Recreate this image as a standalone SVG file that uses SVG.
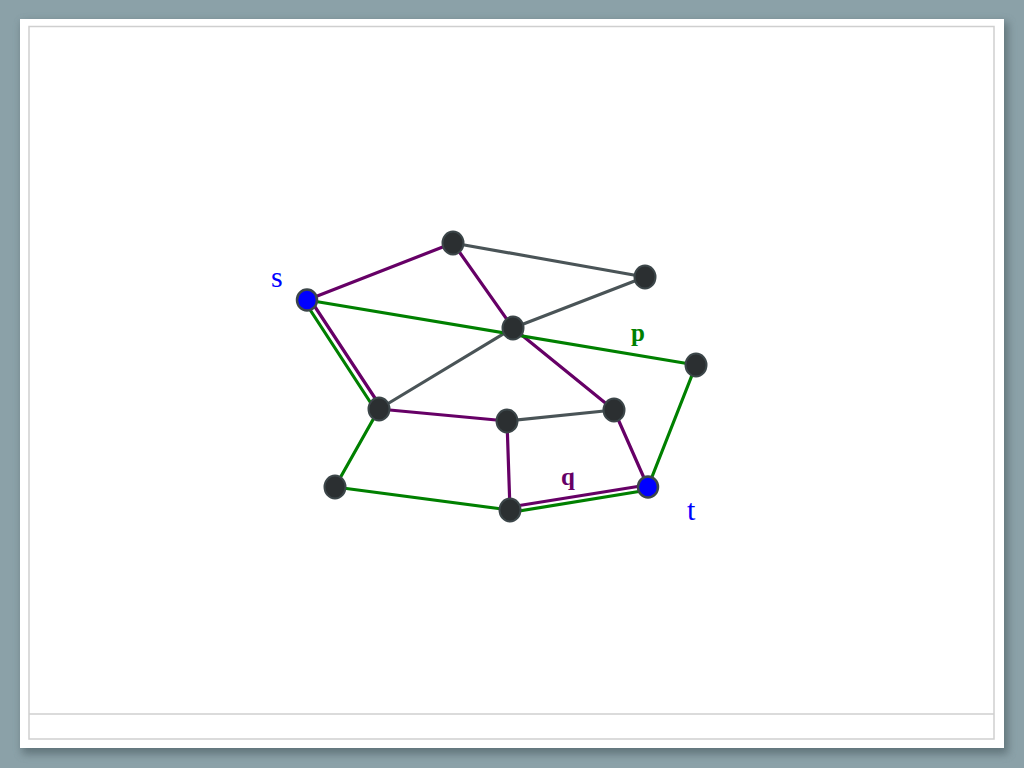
<svg xmlns="http://www.w3.org/2000/svg" width="1024" height="768" viewBox="0 0 1024 768">
<defs>
<filter id="sh" x="-5%" y="-5%" width="110%" height="110%">
<feGaussianBlur stdDeviation="4"/>
</filter>
</defs>
<style>
.e{fill:none;stroke-width:3.2;stroke-linecap:round}
.pu{stroke:#660066}
.gr{stroke:#008000}
.gy{stroke:#4a5457}
.n{fill:#2b2f31;stroke:#3c4649;stroke-width:2}
.b{fill:#0000ff;stroke:#3c4649;stroke-width:2.5}
.lbl{font-family:"Liberation Serif",serif;font-size:30px}
.lb{font-family:"Liberation Serif",serif;font-size:25px;font-weight:bold}
</style>
<rect x="0" y="0" width="1024" height="768" fill="#8ba1a8"/>
<rect x="22" y="22" width="986" height="732" fill="#4f6268" opacity="0.7" filter="url(#sh)"/>
<rect x="20" y="19" width="984" height="729" fill="#ffffff"/>
<rect x="29" y="26.5" width="965" height="712.5" fill="none" stroke="#cfcfcf" stroke-width="1.5"/>
<line x1="29" y1="714" x2="994" y2="714" stroke="#cfcfcf" stroke-width="1.5"/>
<g id="connectors">
<line class="e gy" x1="453" y1="243" x2="645" y2="277"/>
<line class="e gy" x1="513" y1="328" x2="645" y2="277"/>
<line class="e gy" x1="513" y1="328" x2="379" y2="409"/>
<line class="e gy" x1="507" y1="421" x2="614" y2="410"/>
<line class="e pu" x1="307" y1="300" x2="453" y2="243"/>
<line class="e pu" x1="453" y1="243" x2="513" y2="328"/>
<line class="e pu" x1="513" y1="328" x2="614" y2="410"/>
<line class="e pu" x1="379" y1="409" x2="507" y2="421"/>
<line class="e pu" x1="507" y1="421" x2="510" y2="510"/>
<line class="e pu" x1="614" y1="410" x2="648" y2="487"/>
<line class="e gr" x1="307" y1="300" x2="696" y2="365"/>
<line class="e gr" x1="696" y1="365" x2="648" y2="487"/>
<line class="e gr" x1="379" y1="409" x2="335" y2="487"/>
<line class="e gr" x1="335" y1="487" x2="510" y2="510"/>
<line class="e gr" x1="305" y1="302" x2="376" y2="411"/>
<line class="e pu" x1="309.5" y1="298.5" x2="381.5" y2="408"/>
<line class="e gr" x1="510" y1="512.5" x2="648" y2="490"/>
<line class="e pu" x1="510" y1="507" x2="647" y2="485"/>
</g>
<g id="n-a"><ellipse class="n" cx="453" cy="243" rx="10.5" ry="11.5"/></g>
<g id="n-b"><ellipse class="n" cx="645" cy="277" rx="10.5" ry="11.5"/></g>
<g id="n-s"><ellipse class="b" cx="307" cy="300" rx="10" ry="10.5"/></g>
<g id="n-c"><ellipse class="n" cx="513" cy="328" rx="10.5" ry="11.5"/></g>
<g id="n-d"><ellipse class="n" cx="696" cy="365" rx="10.5" ry="11.5"/></g>
<g id="n-e"><ellipse class="n" cx="379" cy="409" rx="10.5" ry="11.5"/></g>
<g id="n-f"><ellipse class="n" cx="507" cy="421" rx="10.5" ry="11.5"/></g>
<g id="n-g"><ellipse class="n" cx="614" cy="410" rx="10.5" ry="11.5"/></g>
<g id="n-h"><ellipse class="n" cx="335" cy="487" rx="10.5" ry="11.5"/></g>
<g id="n-i"><ellipse class="n" cx="510" cy="510" rx="10.5" ry="11.5"/></g>
<g id="n-t"><ellipse class="b" cx="648" cy="487" rx="10" ry="10.5"/></g>
<g id="labels">
<text class="lbl" x="271" y="287" fill="#0000ff">s</text>
<text class="lbl" x="687" y="520" fill="#0000ff">t</text>
<text class="lb" x="631" y="341" fill="#008000">p</text>
<text class="lb" x="561" y="485" fill="#660066">q</text>
</g>
</svg>
